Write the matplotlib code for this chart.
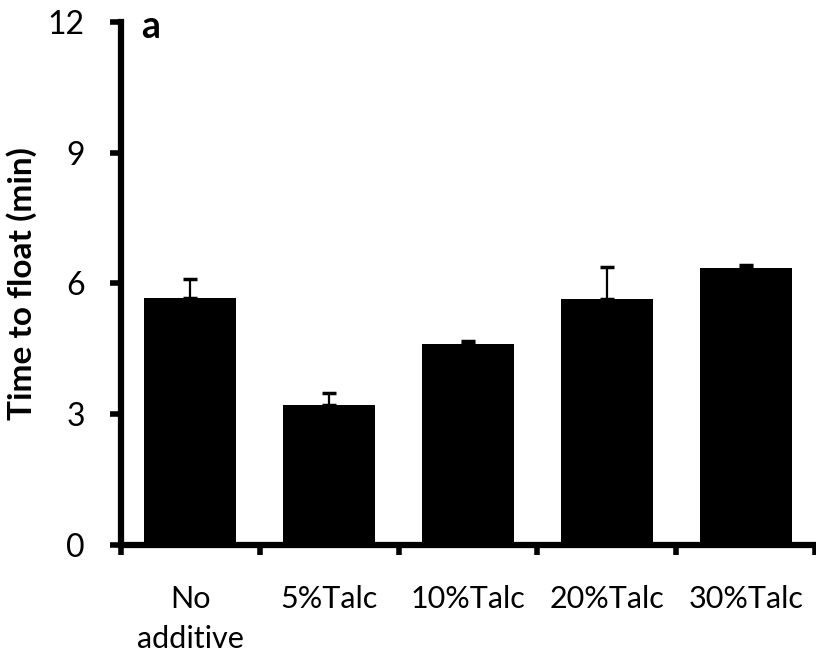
import matplotlib.pyplot as plt
import numpy as np

plt.rcParams['font.family'] = ['Lato', 'DejaVu Sans']

categories = ['No\nadditive', '5%Talc', '10%Talc', '20%Talc', '30%Talc']
time_to_float = [5.66, 3.20, 4.61, 5.65, 6.36]
errors = [0.43, 0.28, 0.06, 0.72, 0.07]
y_ticks = [0, 3, 6, 9, 12]

fig = plt.figure(figsize=(8.16, 6.59), dpi=100)
ax = fig.add_axes([0.148, 0.173, 0.851, 0.794])

x = np.arange(len(categories))
ax.bar(x, time_to_float, width=0.66, color='black', zorder=2)
ax.errorbar(x, time_to_float, yerr=[np.zeros(len(errors)), errors],
            fmt='none', ecolor='black', elinewidth=1.6, capsize=5, capthick=2.5, zorder=1)

ax.set_xlim(-0.5, len(categories) - 0.5)
ax.set_ylim(0, 12)
ax.set_yticks(y_ticks)

# ticks at category boundaries, labels in the middle
ax.set_xticks(np.arange(len(categories) + 1) - 0.5)
ax.set_xticklabels([])
ax.set_xticks(x, minor=True)
ax.set_xticklabels(categories, minor=True, fontsize=22, linespacing=1.5)
ax.tick_params(axis='x', which='minor', length=0, pad=29)
ax.tick_params(axis='x', which='major', direction='out', length=7, width=4)
ax.tick_params(axis='y', direction='out', length=8, width=4, labelsize=23, pad=18)

for side in ['top', 'right']:
    ax.spines[side].set_visible(False)
for side in ['left', 'bottom']:
    ax.spines[side].set_linewidth(4.5)

ax.set_ylabel('Time to float (min)', fontsize=24, fontweight='bold', labelpad=8)
ax.text(0.03, 0.99, 'a', transform=ax.transAxes, fontsize=27, fontweight='bold',
        va='center', ha='left')

fig.savefig('out.png', dpi=100)
